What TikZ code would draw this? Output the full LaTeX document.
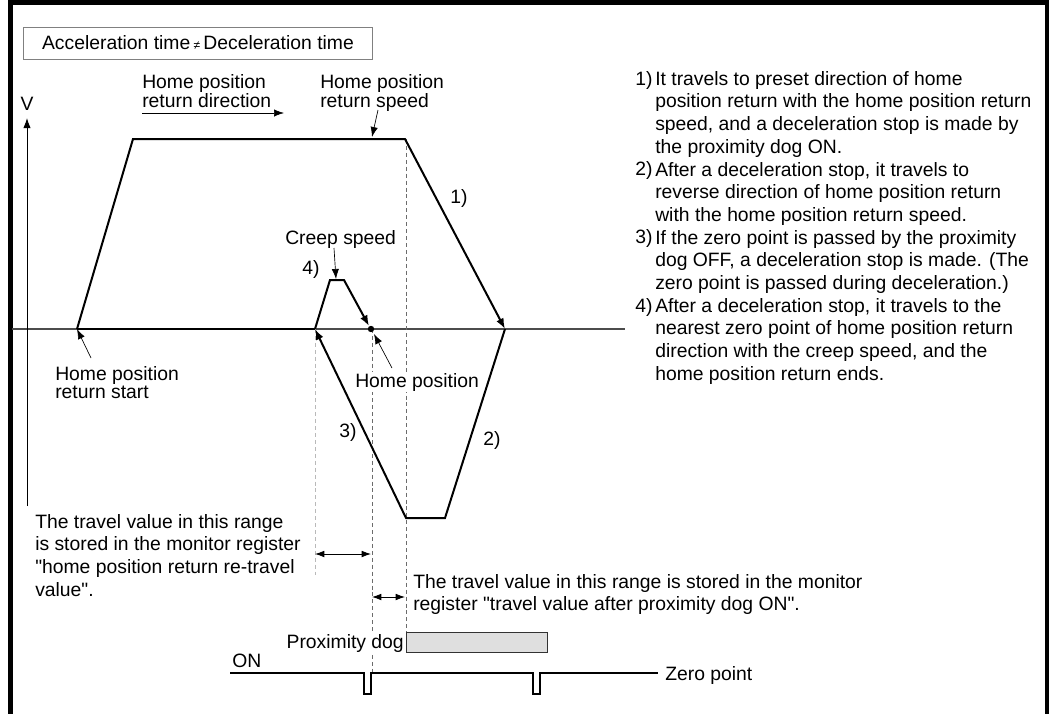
\documentclass[tikz,border=0pt]{standalone}
\usepackage{fontspec}
\newfontfamily\lsans{Liberation Sans}
\usetikzlibrary{arrows.meta}
\newcommand\dq{\char34\relax}
\tikzset{
  txt/.style={inner sep=0pt,font=\lsans\fontsize{14.5}{17}\selectfont,align=left},
  tight/.style={txt,font=\lsans\fontsize{14.5}{13.5}\selectfont},
  prof/.style={line width=1.5pt,line join=miter},
  lead/.style={line width=0.5pt,-{Latex[length=7.5pt,width=5.5pt]}},
  dim/.style={line width=0.6pt,{Latex[length=7pt,width=5pt]}-{Latex[length=7pt,width=5pt]}},
  guide/.style={line width=0.6pt,gray!85!black,dash pattern=on 3pt off 2.2pt},
}
\begin{document}
\begin{tikzpicture}[x=0.75pt,y=-0.75pt,>=Latex]
  \useasboundingbox (0,0) rectangle (1050,714);
  \draw[line width=3.6pt] (10.5,714) -- (10.5,2.5) -- (1047,2.5) -- (1047,714);
  \node[txt,draw=gray,line width=0.6pt,anchor=west,inner xsep=14pt,inner ysep=0pt,minimum height=24pt] (ttl) at (23,43)
    {Acceleration time\,{\fontsize{9}{9}\selectfont ≠}\,Deceleration time};

  % axes
  \draw[line width=0.8pt,gray!60!black] (12,329) -- (625,329);
  \draw[line width=1.1pt] (77,329) -- (315,329);
  \draw[line width=0.7pt,-{Latex[length=7.5pt,width=5.5pt]}] (27,506) -- (27,118);
  \node[txt,anchor=base] (v) at (27,110) {V};

  % dashed guides
  \draw[guide] (406,139) -- (406,632);
  \draw[guide] (372,329) -- (372,673);
  \draw[guide,gray!55] (315,329) -- (315,575);

  % speed profile
  \coordinate (st) at (77,329);
  \coordinate (hs) at (405,139);
  \coordinate (dec) at (505,329);
  \coordinate (rev) at (315,329);
  \coordinate (hp) at (371,329);
  \draw[prof,-{Latex[length=8pt,width=6pt]}] (st) -- (133,139) -- (hs) -- (dec);
  \draw[prof,-{Latex[length=8pt,width=6pt]}] (dec) -- (445,518) -- (406,518) -- (rev);
  \draw[prof,-{Latex[length=8pt,width=6pt]}] (rev) -- (330,280) -- (344,280) -- (369,326);
  \fill (hp) circle (3.2);

  % labels
  \node[tight,anchor=north west] (dir) at (142,74) {Home position\\return direction};
  \draw[lead] (142,113) -- (284,113);
  \node[tight,anchor=north west] (spd) at (320,74) {Home position\\return speed};
  \draw[lead] (378,110) -- (372,137);
  \node[txt,anchor=base west] (creep) at (285,244) {Creep speed};
  \draw[lead] (334,248) -- (336,279);
  \node[txt,anchor=base west] (s4) at (302,274) {4)};
  \node[txt,anchor=base west] (s1) at (450,203) {1)};
  \node[txt,anchor=base west] (s2) at (483,445) {2)};
  \node[txt,anchor=base west] (s3) at (339,437) {3)};
  \node[tight,anchor=north west] (start) at (55,366) {Home position\\return start};
  \draw[lead] (91,358) -- (st);
  \node[txt,anchor=base west,fill=white,inner ysep=1pt] (home) at (355,387) {Home position};
  \draw[lead] (392,368) -- (374,334);

  % notes
  \node[txt,anchor=base west] (n1) at (635,85) {1)};
  \node[txt,anchor=north west] (t1) at (655,71) {It travels to preset direction of home\\position return with the home position return\\speed, and a deceleration stop is made by\\the proximity dog ON.};
  \node[txt,anchor=base west] (n2) at (635,175.8) {2)};
  \node[txt,anchor=north west] (t2) at (655,161.8) {After a deceleration stop, it travels to\\reverse direction of home position return\\with the home position return speed.};
  \node[txt,anchor=base west] (n3) at (635,243.9) {3)};
  \node[txt,anchor=north west] (t3) at (655,229.9) {If the zero point is passed by the proximity\\dog OFF, a deceleration stop is made. (The\\zero point is passed during deceleration.)};
  \node[txt,anchor=base west] (n4) at (635,312) {4)};
  \node[txt,anchor=north west] (t4) at (655,298) {After a deceleration stop, it travels to the\\nearest zero point of home position return\\direction with the creep speed, and the\\home position return ends.};

  % travel value ranges
  \node[txt,anchor=north west] (retr) at (35,514) {The travel value in this range\\is stored in the monitor register\\\dq home position return re-travel\\value\dq.};
  \draw[dim] (315,554) -- (371,554);
  \draw[dim] (372,597) -- (405,597);
  \node[txt,anchor=north west] (aftr) at (413,574) {The travel value in this range is stored in the monitor\\register \dq travel value after proximity dog ON\dq.};

  % proximity dog and zero point
  \node[draw=black!80,fill=gray!25,line width=0.6pt,minimum width=105.75pt,minimum height=15pt,inner sep=0pt,anchor=north west] (dog) at (406,632) {};
  \node[txt,anchor=base east,fill=white,inner ysep=1pt] (doglbl) at (404,648) {Proximity dog};
  \node[txt,anchor=base west] (on) at (232,667) {ON};
  \draw[line width=0.8pt] (230,673) -- (364,673) -- (364,694) -- (371,694) -- (371,673) -- (533,673) -- (533,694) -- (540,694) -- (540,673) -- (658,673);
  \node[txt,anchor=base west] (zp) at (665,680) {Zero point};
\end{tikzpicture}
\end{document}
